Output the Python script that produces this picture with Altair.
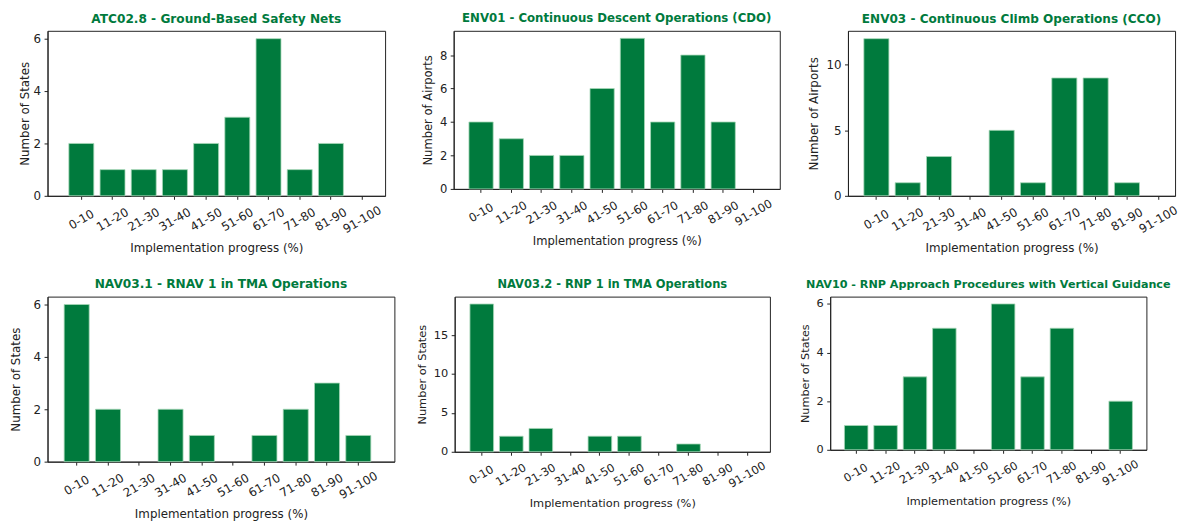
import altair as alt
import pandas as pd

categories = ["0-10", "11-20", "21-30", "31-40", "41-50", "51-60", "61-70", "71-80", "81-90", "91-100"]

atc028 = [2, 1, 1, 1, 2, 3, 6, 1, 2, 0]
env01 = [4, 3, 2, 2, 6, 9, 4, 8, 4, 0]
env03 = [12, 1, 3, 0, 5, 1, 9, 9, 1, 0]
nav031 = [6, 2, 0, 2, 1, 0, 1, 2, 3, 1]
nav032 = [19, 2, 3, 0, 2, 2, 0, 1, 0, 0]
nav10 = [1, 1, 3, 5, 0, 6, 3, 5, 0, 2]

titles = [
    "ATC02.8 - Ground-Based Safety Nets",
    "ENV01 - Continuous Descent Operations (CDO)",
    "ENV03 - Continuous Climb Operations (CCO)",
    "NAV03.1 - RNAV 1 in TMA Operations",
    "NAV03.2 - RNP 1 in TMA Operations",
    "NAV10 - RNP Approach Procedures with Vertical Guidance",
]
y_titles = ["Number of States", "Number of Airports", "Number of Airports",
            "Number of States", "Number of States", "Number of States"]
y_ticks = [[0, 2, 4, 6], [0, 2, 4, 6, 8], [0, 5, 10],
           [0, 2, 4, 6], [0, 5, 10, 15], [0, 2, 4, 6]]
series = [atc028, env01, env03, nav031, nav032, nav10]

sizes = [(341.6, 167), (330, 160), (331, 167),
         (351, 167), (319, 157), (320, 155)]
outer_pad = [0.51, 0.487, 0.321, 0.642, 0.437, 0.48]
band_align = [0.67, 0.518, 0.79, 0.414, 0.592, 0.505]
y_title_pad = [2, 6, 6, 11, 6, 6]
title_sizes = [12.3, 11.9, 12.2, 12.3, 11.6, 11.3]
axis_sizes = [12.0, 11.7, 12.0, 12.0, 11.5, 11.4]

GREEN = "#007a3d"
FONT = "DejaVu Sans"
INK = "#222222"


def panel(i):
    df = pd.DataFrame({"cat": categories, "val": series[i]})
    w, h = sizes[i]
    ymax = max(series[i]) * 1.05
    fs = axis_sizes[i]
    return (
        alt.Chart(df)
        .transform_filter("datum.val > 0")
        .mark_bar(color=GREEN, stroke="#a8d8b8", strokeWidth=0.8)
        .encode(
            x=alt.X(
                "cat:N",
                sort=categories,
                scale=alt.Scale(domain=categories, paddingInner=0.2,
                                paddingOuter=outer_pad[i], align=band_align[i]),
                axis=alt.Axis(
                    title="Implementation progress (%)",
                    labelAngle=-30,
                    labelAlign="center",
                    labelBaseline="middle",
                    labelPadding=20,
                    titlePadding=8,
                    labelFontSize=fs,
                    titleFontSize=fs,
                ),
            ),
            y=alt.Y(
                "val:Q",
                scale=alt.Scale(domain=[0, ymax], nice=False, zero=True),
                axis=alt.Axis(title=y_titles[i], values=y_ticks[i],
                              titlePadding=y_title_pad[i],
                              labelPadding=3.5, labelFontSize=fs, titleFontSize=fs),
            ),
        )
        .properties(
            width=w,
            height=h,
            title=alt.TitleParams(
                titles[i], color=GREEN, fontWeight="bold", fontSize=title_sizes[i],
                font=FONT, offset=6, anchor="middle",
            ),
        )
    )


p = [panel(i) for i in range(6)]

row1 = alt.hconcat(p[0], p[1], p[2], spacing=69, bounds="flush")
row2 = alt.hconcat(p[3], p[4], p[5], spacing=61, bounds="flush")

chart = alt.vconcat(row1, row2, spacing=24).properties(
    padding={"left": 0, "top": 0, "right": 0, "bottom": 0},
).configure_view(
    stroke=INK, strokeWidth=1
).configure_axis(
    labelFont=FONT, titleFont=FONT,
    labelColor=INK, titleColor=INK, titleFontWeight="normal",
    domainColor=INK, tickColor=INK, tickSize=3.5, grid=False,
)

chart.save("out.html", embed_options={"renderer": "svg", "actions": False})
